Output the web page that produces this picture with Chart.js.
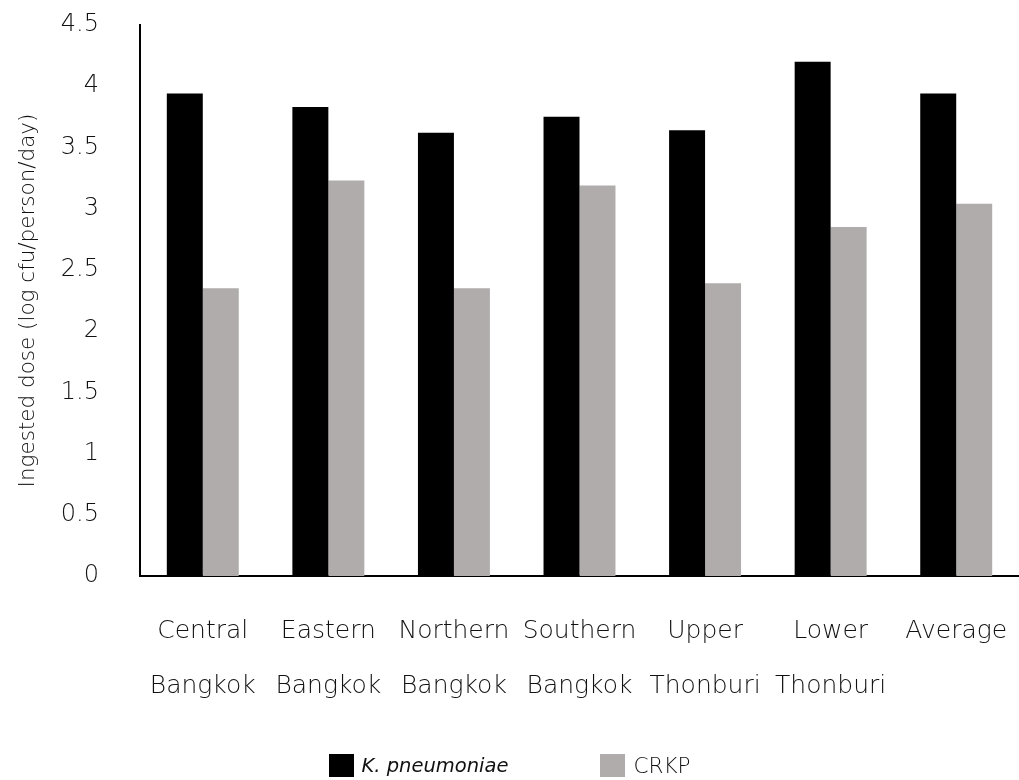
<!DOCTYPE html>
<html>
<head>
<meta charset="utf-8">
<script src="https://cdn.jsdelivr.net/npm/chart.js@4/dist/chart.umd.min.js"></script>
<style>
  html, body { margin: 0; padding: 0; background: #fff; }
  .wrap { position: relative; width: 1019px; height: 780px; }
  .legend {
    position: absolute; top: 752px; left: 0; width: 1019px; height: 26px;
    display: flex; justify-content: center; align-items: center;
    font-family: 'DejaVu Sans', sans-serif; font-weight: 200; font-size: 21.5px; color: #111;
  }
  .legend .item { display: flex; align-items: center; }
  .legend .item i { font-size: 19.5px; }
  .legend .box { width: 25px; height: 23px; margin-right: 8px; }
  .legend .gap { width: 92px; }
</style>
</head>
<body>
<div class="wrap">
  <canvas id="myChart" width="1019" height="780"></canvas>
  <div class="legend">
    <div class="item"><span class="box" style="background:#000"></span><i>K. pneumoniae</i></div>
    <div class="gap"></div>
    <div class="item"><span class="box" style="background:#afacab"></span>CRKP</div>
  </div>
</div>
<script>
// --- data ---
const categories = [
  ['Central', 'Bangkok'],
  ['Eastern', 'Bangkok'],
  ['Northern', 'Bangkok'],
  ['Southern', 'Bangkok'],
  ['Upper', 'Thonburi'],
  ['Lower', 'Thonburi'],
  ['Average', '']
];
const kPneumoniae = [3.94, 3.83, 3.62, 3.75, 3.64, 4.20, 3.94];
const crkp = [2.35, 3.23, 2.35, 3.19, 2.39, 2.85, 3.04];

const textColor = '#111';
const fontFamily = "'DejaVu Sans', sans-serif";

const ctx = document.getElementById('myChart').getContext('2d');
new Chart(ctx, {
  type: 'bar',
  data: {
    labels: categories,
    datasets: [
      { label: 'K. pneumoniae', data: kPneumoniae, backgroundColor: '#000000' },
      { label: 'CRKP', data: crkp, backgroundColor: '#afacab' }
    ]
  },
  options: {
    responsive: false,
    animation: false,
    categoryPercentage: 0.573,
    barPercentage: 1,
    layout: { padding: { top: 25, right: 0, bottom: 40, left: 0 } },
    plugins: {
      legend: { display: false },
      tooltip: { enabled: false }
    },
    scales: {
      x: {
        grid: { display: false, drawTicks: false },
        border: { display: true, color: '#000', width: 2 },
        ticks: {
          color: textColor,
          padding: 28,
          maxRotation: 0,
          autoSkip: false,
          font: { family: fontFamily, size: 25, weight: 200, lineHeight: 2.2 }
        },
        afterFit: function(scale) {
          scale.height = 164;
          scale.paddingLeft = 0;
          scale.paddingRight = 0;
        }
      },
      y: {
        min: 0,
        max: 4.5,
        grid: { display: false, drawTicks: false },
        border: { display: true, color: '#000', width: 2 },
        ticks: {
          stepSize: 0.5,
          color: textColor,
          padding: 41,
          font: { family: fontFamily, size: 24, weight: 200 },
          callback: function(v) { return String(v); }
        },
        title: {
          display: true,
          text: 'Ingested dose (log cfu/person/day)',
          color: textColor,
          padding: { top: 16, bottom: 0 },
          font: { family: fontFamily, size: 21.5, weight: 200 }
        },
        afterFit: function(scale) {
          scale.width = 140;
          scale.paddingTop = 0;
          scale.paddingBottom = 0;
        }
      }
    }
  }
});
</script>
</body>
</html>
